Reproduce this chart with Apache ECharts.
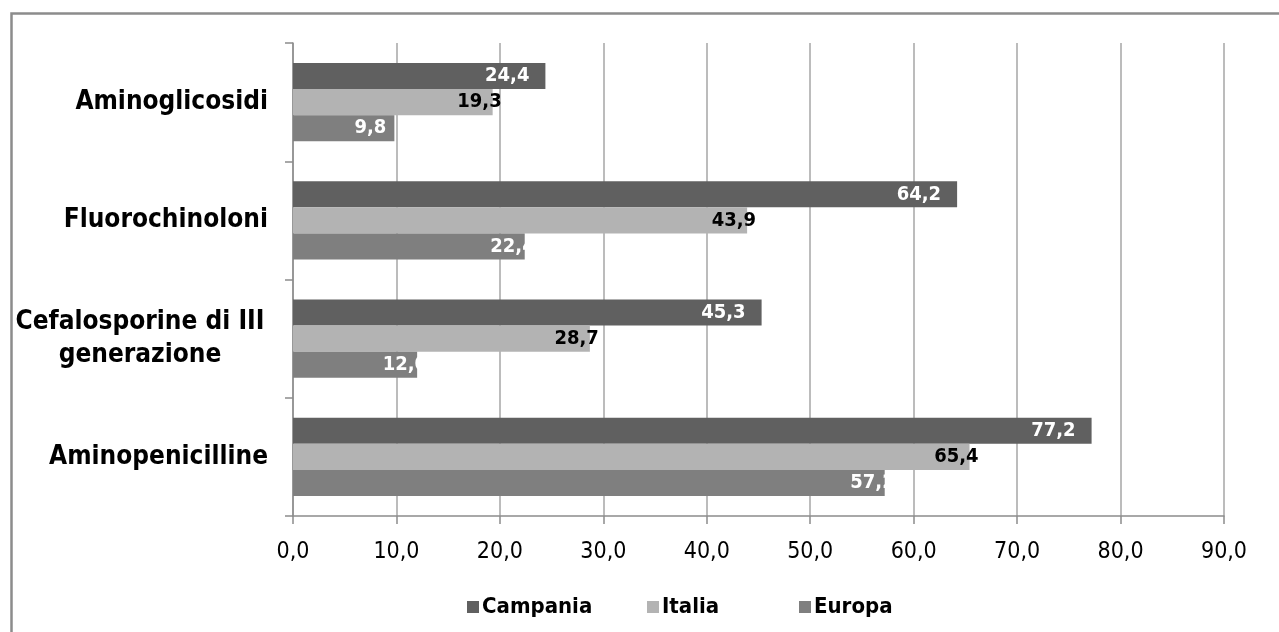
<!DOCTYPE html>
<html>
<head>
<meta charset="utf-8">
<script src="https://cdn.jsdelivr.net/npm/echarts@6/dist/echarts.min.js"></script>
<style>
html,body{margin:0;padding:0;background:#fff;}
#chart{width:1279px;height:632px;}
</style>
</head>
<body>
<div id="chart"></div>
<script>
// Categories listed bottom to top
var categories = ['Aminopenicilline', 'Cefalosporine di III\ngenerazione', 'Fluorochinoloni', 'Aminoglicosidi'];
var campania = [77.2, 45.3, 64.2, 24.4];
var italia = [65.4, 28.7, 43.9, 19.3];
var europa = [57.2, 12.0, 22.4, 9.8];
var seriesNames = ['Campania', 'Italia', 'Europa'];
var xTicks = [0, 10, 20, 30, 40, 50, 60, 70, 80, 90];

var FONT = '"DejaVu Sans Condensed", "DejaVu Sans", sans-serif';
function fmt(v) { return v.toFixed(1).replace('.', ','); }

var chart = echarts.init(document.getElementById('chart'), null, {renderer: 'canvas'});

function barSeries(name, data, color, labelColor, offsetX, distance, shortOffsetX) {
  return {
    name: name,
    type: 'bar',
    data: data.map(function (v) {
      var item = {value: v};
      if (shortOffsetX !== undefined && fmt(v).length < 4) {
        item.label = {offset: [shortOffsetX, 0]};
      }
      return item;
    }),
    barGap: '0%',
    barCategoryGap: '34%',
    itemStyle: {color: color},
    label: {
      show: true,
      position: 'insideRight',
      distance: distance,
      offset: [offsetX, 0],
      color: labelColor,
      fontFamily: FONT,
      fontWeight: 'bold',
      fontSize: 20,
      formatter: function (p) { return fmt(p.value); }
    },
    emphasis: {disabled: true},
    animation: false
  };
}

var legendLefts = [462, 642, 794];
var legends = seriesNames.map(function (n, i) {
  return {
    data: [n],
    left: legendLefts[i],
    top: 591,
    itemWidth: 12,
    itemHeight: 12,
    icon: 'rect',
    selectedMode: false,
    textStyle: {fontFamily: FONT, fontWeight: 'bold', fontSize: 22, color: '#000', padding: [0, 0, 0, -2]}
  };
});

var option = {
  animation: false,
  backgroundColor: '#ffffff',
  grid: {left: 293, top: 43, width: 931, height: 473, containLabel: false},
  legend: legends,
  xAxis: {
    type: 'value',
    min: xTicks[0],
    max: xTicks[xTicks.length - 1],
    interval: 10,
    axisLine: {show: true, lineStyle: {color: '#8c8c8c', width: 1.5}},
    axisTick: {show: true, length: 8, lineStyle: {color: '#8c8c8c', width: 1.5}},
    splitLine: {show: true, lineStyle: {color: '#a6a6a6', width: 1.5}},
    axisLabel: {
      margin: 25,
      color: '#000',
      fontFamily: FONT,
      fontSize: 23,
      formatter: function (v) { return fmt(v); }
    }
  },
  yAxis: {
    type: 'category',
    data: categories,
    axisLine: {show: true, lineStyle: {color: '#8c8c8c', width: 1.5}},
    axisTick: {show: true, length: 8, alignWithLabel: false, lineStyle: {color: '#8c8c8c', width: 1.5}},
    axisLabel: {
      margin: 25,
      color: '#000',
      fontFamily: FONT,
      fontWeight: 'bold',
      fontSize: 26,
      lineHeight: 33,
      formatter: function (v) {
        if (v.indexOf('\n') >= 0) {
          return v.split('\n').map(function (s) { return '{c|' + s + '}'; }).join('\n');
        }
        return v;
      },
      rich: {
        c: {width: 256, align: 'center', fontFamily: FONT, fontWeight: 'bold', fontSize: 26, lineHeight: 33, color: '#000'}
      }
    }
  },
  series: [
    barSeries('Campania', campania, '#606060', '#ffffff', 0, 16),
    barSeries('Italia', italia, '#b3b3b3', '#000000', 9, 0),
    barSeries('Europa', europa, '#7f7f7f', '#ffffff', 10, 0, -8)
  ],
  graphic: [{
    type: 'rect',
    shape: {x: 11.5, y: 13.5, width: 1400, height: 800},
    style: {fill: 'none', stroke: '#8c8c8c', lineWidth: 2.5},
    silent: true,
    z: 100
  }]
};
chart.setOption(option);
</script>
</body>
</html>
